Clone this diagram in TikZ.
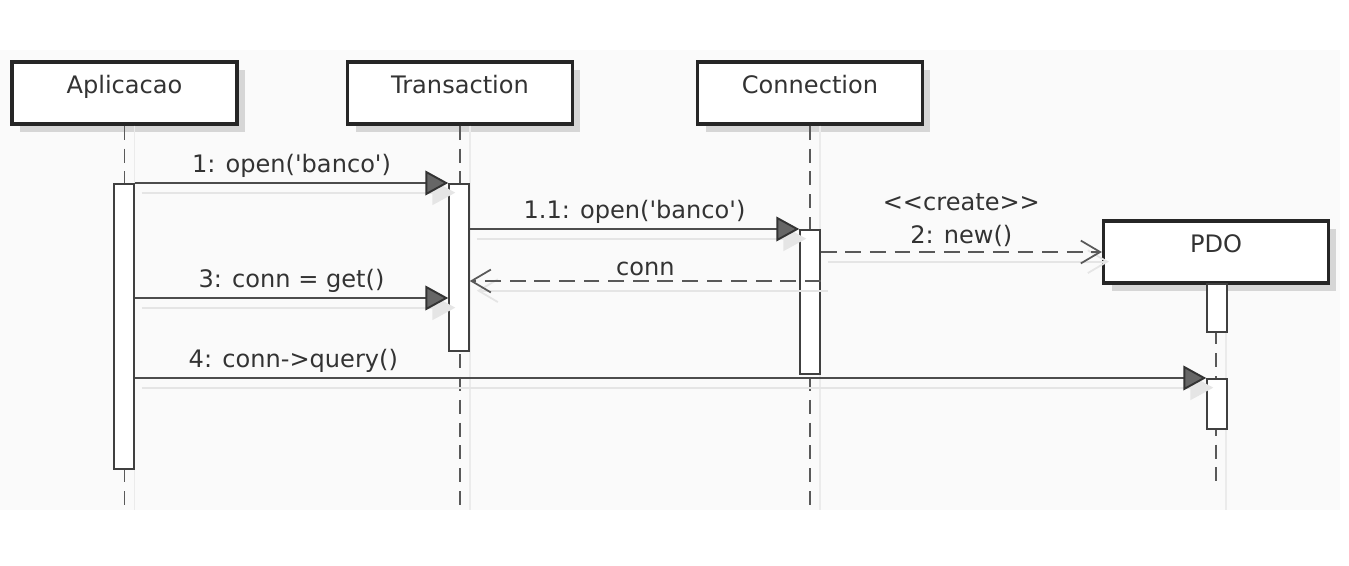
\documentclass[tikz,border=0pt]{standalone}
\usepackage{fontspec}
\setmainfont{DejaVu Sans}
\usetikzlibrary{arrows.meta, shadows}

\begin{document}
\begin{tikzpicture}[
    x=0.02cm, y=-0.02cm,
    every node/.style={font=\fontsize{13.7}{16}\selectfont, text=black!80},
    object/.style={rectangle, draw=black!85, fill=white, line width=1.9pt,
                   minimum width=4.5cm, minimum height=1.24cm, inner sep=0pt,
                   text height=10pt, text depth=9pt,
                   drop shadow={shadow xshift=0.16cm, shadow yshift=-0.16cm,
                                fill=black!25, opacity=0.6}},
    bar/.style={rectangle, draw=black!75, fill=white, line width=0.9pt,
                minimum width=0.4cm, inner sep=0pt, anchor=north},
    life/.style={draw=black!65, line width=0.9pt, dash pattern=on 8pt off 5pt},
    lifeshade/.style={draw=black!8, line width=0.8pt},
    call/.style={-{Triangle[length=13pt, width=14pt, fill=black!60, color=black!80]},
                 line width=1.1pt, draw=black!70},
    reply/.style={-{Straight Barb[length=11pt, width=13pt, line width=1pt]},
                  line width=1.1pt, draw=black!65, dash pattern=on 9pt off 5pt},
    msgshade/.style={draw=black!10, line width=1pt,
                     transform canvas={shift={(4pt,-5.5pt)}}},
    callshade/.style={msgshade, -{Triangle[length=13pt, width=14pt, fill=black!10, color=black!10]}},
    replyshade/.style={msgshade, -{Straight Barb[length=11pt, width=13pt, line width=1pt]}},
    msg/.style={above, inner sep=2.5pt},
]

\useasboundingbox (0,0) rectangle (1349,565);
\fill[black!2] (0,50) rectangle (1340,510);

% Objects
\node[object] (apl) at (124.5, 93)  {Aplicacao};
\node[object] (tra) at (460, 93)    {Transaction};
\node[object] (con) at (810, 93)    {Connection};
\node[object] (pdo) at (1216, 252)  {PDO};

\coordinate (bottom)      at (0, 505);
\coordinate (pdobottom)   at (0, 490);
\coordinate (shadebottom) at (0, 510);

% Lifelines
\draw[lifeshade] ([xshift=0.2cm]apl.south) -- ([xshift=0.2cm]apl.south |- shadebottom);
\draw[lifeshade] ([xshift=0.2cm]tra.south) -- ([xshift=0.2cm]tra.south |- shadebottom);
\draw[lifeshade] ([xshift=0.2cm]con.south) -- ([xshift=0.2cm]con.south |- shadebottom);
\draw[lifeshade] ([xshift=0.2cm]pdo.south) -- ([xshift=0.2cm]pdo.south |- shadebottom);
\draw[life] (apl.south) -- (apl.south |- bottom);
\draw[life] (tra.south) -- (tra.south |- bottom);
\draw[life] (con.south) -- (con.south |- bottom);
\draw[life] (pdo.south) -- (pdo.south |- pdobottom);

% Activations
\node[bar, minimum height=5.7cm]  (a1) at (124, 183)  {};
\node[bar, minimum height=3.34cm] (t1) at (459, 183)  {};
\node[bar, minimum height=2.88cm] (c1) at (810, 229)  {};
\node[bar, minimum height=0.96cm] (p1) at (1217, 283) {};
\node[bar, minimum height=1cm]    (p2) at (1217, 378) {};

\coordinate (connY) at (0, 281);
\coordinate (getY)  at (0, 298);

% Messages
\draw[callshade] (a1.north east) -- (t1.north west);
\draw[call] (a1.north east) -- node[msg] {1: open(\textquotesingle banco\textquotesingle)} (t1.north west);

\draw[callshade] (t1.east |- c1.north) -- (c1.north west);
\draw[call] (t1.east |- c1.north) -- node[msg] {1.1: open(\textquotesingle banco\textquotesingle)} (c1.north west);

\draw[replyshade] (c1.east |- pdo.west) -- (pdo.west);
\draw[reply] (c1.east |- pdo.west) -- node[msg, align=center] {<{}<create>{}>\\[3pt]2: new()} (pdo.west);

\draw[replyshade] (c1.east |- connY) -- (t1.east |- connY);
\draw[reply] (c1.east |- connY) -- node[msg] {conn} (t1.east |- connY);

\draw[callshade] (a1.east |- getY) -- (t1.west |- getY);
\draw[call] (a1.east |- getY) -- node[msg] {3: conn = get()} (t1.west |- getY);

\draw[callshade] (a1.east |- p2.north) -- (p2.north west);
\draw[call] (a1.east |- p2.north) -- node[msg, pos=0.148] {4: conn->query()} (p2.north west);

\end{tikzpicture}
\end{document}
